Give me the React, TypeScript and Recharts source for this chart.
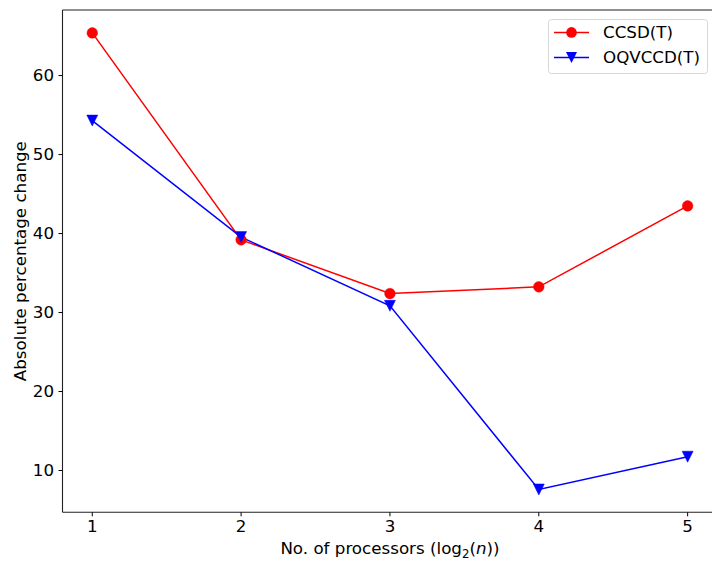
import React from "react";
import { LineChart, Line, XAxis, YAxis, ReferenceLine } from "recharts";

// Processor counts on a log2 scale and the two series measured at each
const processors = [1, 2, 3, 4, 5];
const ccsdT = [65.4, 39.2, 32.4, 33.25, 43.5];
const oqvccdT = [54.3, 39.55, 30.85, 7.6, 11.75];
const yTicks = [10, 20, 30, 40, 50, 60];
const xTicks = [1, 2, 3, 4, 5];
const seriesNames = ["CCSD(T)", "OQVCCD(T)"];

const data = processors.map((x, i) => ({ x, ccsd: ccsdT[i], oqv: oqvccdT[i] }));

const FONT = "DejaVu Sans";
const FS = 16.7;
const Y_MIN = 4.71;
const Y_MAX = 68.3;

const RED = "#ff0000";
const BLUE = "#0000ff";

const CircleDot = (props: any) => {
  const { cx, cy } = props;
  if (cx == null || cy == null) return null;
  return <circle cx={cx} cy={cy} r={5.3} fill={RED} stroke={RED} strokeWidth={0.5} />;
};

const TriangleDownDot = (props: any) => {
  const { cx, cy } = props;
  if (cx == null || cy == null) return null;
  const s = 5.5;
  return (
    <path
      d={`M${cx - s},${cy - s} L${cx + s},${cy - s} L${cx},${cy + s} Z`}
      fill={BLUE}
      stroke={BLUE}
      strokeWidth={0.5}
    />
  );
};

const XTitle = (props: any) => {
  const vb = props.viewBox || {};
  const cx = vb.x + vb.width / 2;
  const y = vb.y + 41.5;
  return (
    <text x={cx} y={y} textAnchor="middle" fontFamily={FONT} fontSize={FS} fill="#000">
      No. of processors (log
      <tspan fontSize={FS * 0.7} dy={4}>2</tspan>
      <tspan dy={-4}>(</tspan>
      <tspan fontStyle="italic">n</tspan>
      <tspan>))</tspan>
    </text>
  );
};

const YTitle = (props: any) => {
  const vb = props.viewBox || {};
  const x = 18.5;
  const y = vb.y + vb.height / 2;
  return (
    <text
      x={x}
      y={y}
      textAnchor="middle"
      fontFamily={FONT}
      fontSize={FS}
      fill="#000"
      transform={`rotate(-90, ${x}, ${y})`}
    >
      Absolute percentage change
    </text>
  );
};

const LegendBox = () => (
  <div style={{ position: "absolute", left: 548, top: 19, width: 160, height: 55 }}>
    <svg width={160} height={55} style={{ display: "block" }}>
      <rect
        x={0.5}
        y={0.5}
        width={159}
        height={54}
        rx={3}
        fill="#fff"
        fillOpacity={0.8}
        stroke="#d6d6d6"
        strokeWidth={1}
      />
      <line x1={6} x2={41} y1={13.4} y2={13.4} stroke={RED} strokeWidth={1.5} />
      <circle cx={23.5} cy={13.4} r={5.3} fill={RED} />
      <text x={55} y={13.4} dy="0.36em" fontFamily={FONT} fontSize={FS} fill="#000">
        {seriesNames[0]}
      </text>
      <line x1={6} x2={41} y1={38.4} y2={38.4} stroke={BLUE} strokeWidth={1.5} />
      <path d={`M${23.5 - 5.5},${38.4 - 5.5} L${23.5 + 5.5},${38.4 - 5.5} L23.5,${38.4 + 5.5} Z`} fill={BLUE} />
      <text x={55} y={38.4} dy="0.36em" fontFamily={FONT} fontSize={FS} fill="#000">
        {seriesNames[1]}
      </text>
    </svg>
  </div>
);

export default function App() {
  return (
    <div
      style={{
        position: "fixed",
        left: 0,
        top: 0,
        width: 712,
        height: 561,
        overflow: "hidden",
        background: "#fff",
      }}
    >
      <div style={{ position: "absolute", left: 8, top: 8 }}>
        <LineChart
          width={740}
          height={553}
          data={data}
          margin={{ top: 2, right: 30.6, bottom: 0, left: 0 }}
        >
          <XAxis
            dataKey="x"
            type="number"
            domain={[0.8, 5.2]}
            ticks={xTicks}
            allowDataOverflow
            height={48.7}
            tickSize={4}
            tickMargin={3.7}
            stroke="#222"
            tickLine={{ stroke: "#000" }}
            axisLine={{ stroke: "#222", strokeWidth: 1.1 }}
            tick={{ fill: "#000", fontFamily: FONT, fontSize: FS }}
            label={{ content: XTitle }}
          />
          <YAxis
            type="number"
            domain={[Y_MIN, Y_MAX]}
            ticks={yTicks}
            allowDataOverflow
            width={54.5}
            tickSize={4}
            tickMargin={4.5}
            stroke="#222"
            tickLine={{ stroke: "#000" }}
            axisLine={{ stroke: "#222", strokeWidth: 1.1 }}
            tick={{ fill: "#000", fontFamily: FONT, fontSize: FS }}
            label={{ content: YTitle }}
          />
          <ReferenceLine y={Y_MAX} stroke="#222" strokeWidth={1.1} ifOverflow="extendDomain" />
          <Line
            dataKey="ccsd"
            name={seriesNames[0]}
            stroke={RED}
            strokeWidth={1.5}
            dot={<CircleDot />}
            activeDot={false}
            isAnimationActive={false}
          />
          <Line
            dataKey="oqv"
            name={seriesNames[1]}
            stroke={BLUE}
            strokeWidth={1.5}
            dot={<TriangleDownDot />}
            activeDot={false}
            isAnimationActive={false}
          />
        </LineChart>
      </div>
      <LegendBox />
    </div>
  );
}
